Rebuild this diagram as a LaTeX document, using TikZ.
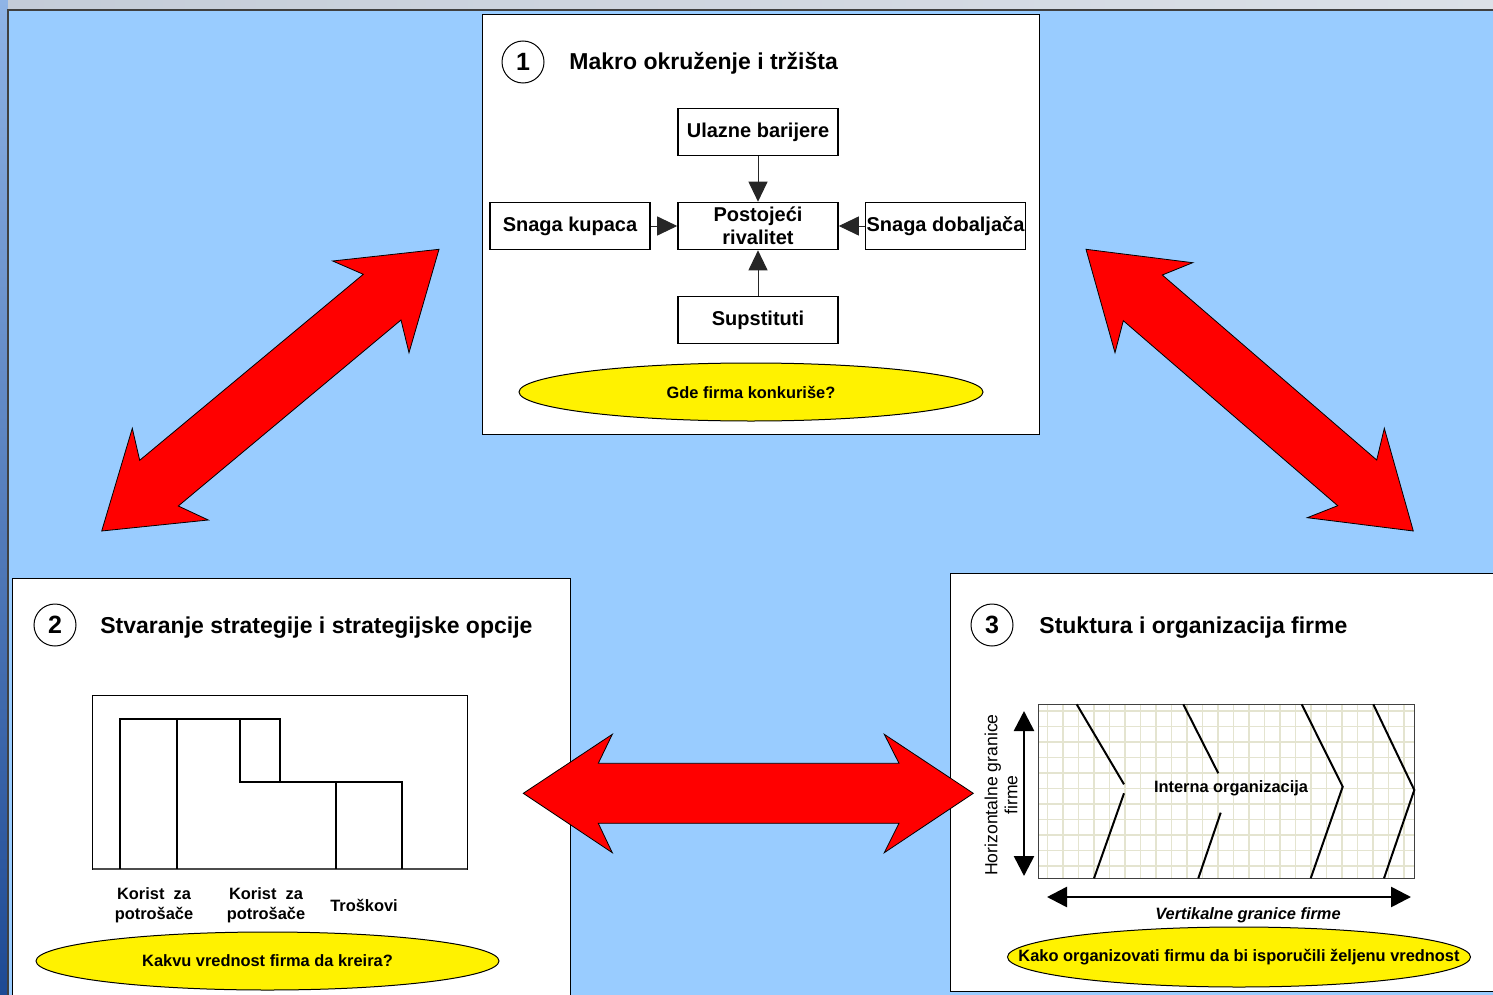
\documentclass[tikz,border=0pt]{standalone}
\usepackage{fontspec}
\setmainfont{Liberation Sans}
\usetikzlibrary{arrows.meta,shapes.geometric}
\definecolor{sky}{HTML}{99CCFF}
\definecolor{gridc}{HTML}{E4E4D0}
\definecolor{framec}{HTML}{404040}
\definecolor{deskA}{HTML}{8FB4E6}
\definecolor{deskB}{HTML}{2F62B8}
\definecolor{deskC}{HTML}{1E4A94}
\definecolor{barA}{HTML}{C4CCD8}
\definecolor{barB}{HTML}{DCE1E8}

\begin{document}
\begin{tikzpicture}[x=0.5pt,y=-0.5pt,
  panel/.style={draw=black,line width=0.5pt,fill=white},
  forcebox/.style={draw=black,line width=0.8pt,minimum width=80pt,minimum height=23.5pt,
    inner sep=0pt,align=center,font=\bfseries\fontsize{10}{11.5}\selectfont},
  badge/.style={circle,draw=black,line width=0.5pt,minimum size=21pt,inner sep=0pt,
    font=\bfseries\fontsize{12.5}{13}\selectfont},
  paneltitle/.style={anchor=base west,inner sep=0pt,font=\bfseries\fontsize{11.5}{13}\selectfont},
  qfill/.style={draw=black,line width=0.5pt,fill=yellow},
  small/.style={inner sep=0pt,align=center,font=\bfseries\fontsize{8.2}{10}\selectfont},
  feed/.style={draw=black!85,line width=0.5pt,-{Triangle[length=10pt,width=9.5pt]}},
  bigarrow/.style={fill=red,draw=black,line width=0.4pt,line join=miter},
  bar/.style={line width=1pt,draw=black},
  chev/.style={line width=1pt,draw=black},
  bound/.style={line width=1.3pt,{Triangle[length=10pt,width=10pt]}-{Triangle[length=10pt,width=10pt]}},
]
\useasboundingbox (0,0) rectangle (1493,995);

% desktop edges and slide background
\shade[top color=deskA,middle color=deskB,bottom color=deskC] (0,0) rectangle (8,995);
\shade[left color=barA,right color=barB] (8,0) rectangle (1493,10);
\fill[sky] (8,10) rectangle (1493,995);
\draw[framec,line width=1pt] (8,995) -- (8,10) -- (1493,10);

% panel 1: market forces
\draw[panel] (482,15) rectangle (1039,434);
\node[badge] (n1) at (523,62) {1};
\node[paneltitle] (t1) at (569,70) {Makro okruženje i tržišta};
\node[forcebox] (ub) at (758,132) {Ulazne barijere};
\node[forcebox] (pr) at (758,226) {Postojeći\\rivalitet};
\node[forcebox] (sk) at (570,226) {Snaga kupaca};
\node[forcebox] (sd) at (945.5,226) {Snaga dobaljača};
\node[forcebox] (su) at (758,320) {Supstituti};
\draw[feed] (ub) -- (pr);
\draw[feed] (sk) -- (pr);
\draw[feed] (sd) -- (pr);
\draw[feed] (su) -- (pr);
\draw[qfill] (751,392) ellipse [x radius=116pt,y radius=14.5pt];
\node[small] (q1) at (751,392) {Gde firma konkuriše?};

% panel 2: value creation
\draw[panel] (12,578) rectangle (570,1005);
\node[badge] (n2) at (55,625) {2};
\node[paneltitle] (t2) at (100,633) {Stvaranje strategije i strategijske opcije};
\draw[line width=0.5pt] (92.5,695) rectangle (467,869);
\draw[line width=0.8pt,black!70] (92.5,869) -- (467,869);
\draw[bar] (120,869) |- (280,719) |- (402,782) -- (402,869);
\draw[bar] (177,719) -- (177,869);
\draw[bar] (240,719) -- (240,782) -- (280,782);
\draw[bar] (336,782) -- (336,869);
\node[small] (l1) at (154,905) {Korist\ \ za\\potrošače};
\node[small] (l2) at (266,905) {Korist\ \ za\\potrošače};
\node[small] (l3) at (364,905) {Troškovi};
\draw[qfill] (267.5,961) ellipse [x radius=115.75pt,y radius=14.5pt];
\node[small] (q2) at (267.5,961) {Kakvu vrednost firma da kreira?};

% panel 3: organisation of the firm
\draw[panel] (950,573) rectangle (1505,991);
\node[badge] (n3) at (992,625) {3};
\node[paneltitle] (t3) at (1039,633) {Stuktura i organizacija firme};
\begin{scope}
  \clip (1038.3,704.3) rectangle (1414.3,878.3);
  \foreach \i in {0,...,24} \draw[gridc,line width=0.8pt] ({1047.3+15.5*\i},700) -- ++(0,185);
  \foreach \j in {0,...,11} \draw[gridc,line width=0.8pt] (1035,{711+15.5*\j}) -- ++(385,0);
\end{scope}
\draw[line width=0.5pt,black!75] (1038.3,704.3) rectangle (1414.3,878.3);
\draw[chev] (1076.7,704.3) -- (1124,784.3);
\draw[chev] (1124,793.3) -- (1094,878.3);
\draw[chev] (1183.3,704.3) -- (1218.3,773.3);
\draw[chev] (1220.7,812.7) -- (1198.3,878.3);
\draw[chev] (1301.7,704.3) -- (1342.7,786.7) -- (1310.7,878.3);
\draw[chev] (1373.3,704.3) -- (1414.3,790) -- (1384,878.3);
\node[small] (io) at (1231,788) {Interna organizacija};
\coordinate (vt) at (1024,711);
\coordinate (vb) at (1024,876);
\draw[bound] (vt) -- (vb);
\node[rotate=90,align=center,inner sep=0pt,font=\fontsize{8.8}{10}\selectfont] (hz) at (1001,795) {Horizontalne granice\\firme};
\coordinate (hlft) at (1047,897);
\coordinate (hrgt) at (1411,897);
\draw[bound] (hlft) -- (hrgt);
\node[small,font=\bfseries\itshape\fontsize{8.2}{10}\selectfont] (vk) at (1248,915) {Vertikalne granice firme};
\draw[qfill] (1239,957) ellipse [x radius=115.75pt,y radius=15pt];
\node[small] (q3) at (1239,957) {Kako organizovati firmu da bi isporučili željenu vrednost};

% red two-headed arrows between the panels
\draw[bigarrow] (439,249.3) -- (409,352.7) -- (401,320) -- (178.3,506) -- (208.3,520)
  -- (101.7,531) -- (132.3,428.3) -- (139.7,460.3) -- (363.3,274.3) -- (332.7,261) -- cycle;
\draw[bigarrow] (1086,249.3) -- (1192.7,262.7) -- (1162.3,275) -- (1376.7,460) -- (1384.3,428.3)
  -- (1413.3,531) -- (1307.3,517.7) -- (1337.7,505.7) -- (1123.3,320.7) -- (1115,352.7) -- cycle;
\draw[bigarrow] (523.3,793.3) -- (612.3,734.3) -- (598.3,763.3) -- (899,763.3) -- (884.3,734.3)
  -- (973.3,793.3) -- (884.3,852.7) -- (899,823.3) -- (598.3,823.3) -- (612.3,852.7) -- cycle;
\end{tikzpicture}
\end{document}
